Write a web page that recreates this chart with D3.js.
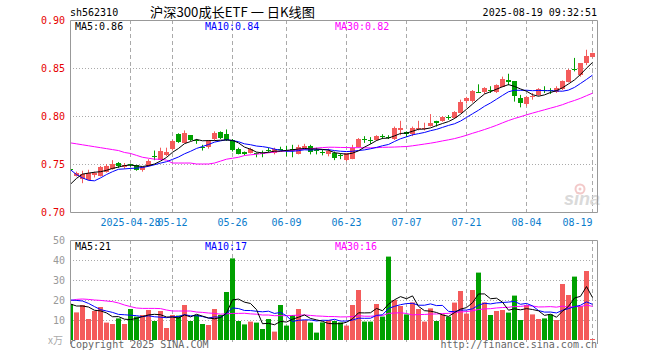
<!DOCTYPE html>
<html><head><meta charset="utf-8">
<script src="https://cdn.jsdelivr.net/npm/d3@7"></script>
<style>body{margin:0;background:#fff}svg{display:block}</style>
</head><body><svg id="c" width="660" height="360"></svg>
<script>
const dates = [
"2025-04-14","2025-04-15","2025-04-16","2025-04-17","2025-04-18","2025-04-21","2025-04-22","2025-04-23","2025-04-24","2025-04-25",
"2025-04-28","2025-04-29","2025-04-30","2025-05-06","2025-05-07","2025-05-08","2025-05-09","2025-05-12","2025-05-13","2025-05-14",
"2025-05-15","2025-05-16","2025-05-19","2025-05-20","2025-05-21","2025-05-22","2025-05-23","2025-05-26","2025-05-27","2025-05-28",
"2025-05-29","2025-05-30","2025-06-03","2025-06-04","2025-06-05","2025-06-06","2025-06-09","2025-06-10","2025-06-11","2025-06-12",
"2025-06-13","2025-06-16","2025-06-17","2025-06-18","2025-06-19","2025-06-20","2025-06-23","2025-06-24","2025-06-25","2025-06-26",
"2025-06-27","2025-06-30","2025-07-01","2025-07-02","2025-07-03","2025-07-04","2025-07-07","2025-07-08","2025-07-09","2025-07-10",
"2025-07-11","2025-07-14","2025-07-15","2025-07-16","2025-07-17","2025-07-18","2025-07-21","2025-07-22","2025-07-23","2025-07-24",
"2025-07-25","2025-07-28","2025-07-29","2025-07-30","2025-07-31","2025-08-01","2025-08-04","2025-08-05","2025-08-06","2025-08-07",
"2025-08-08","2025-08-11","2025-08-12","2025-08-13","2025-08-14","2025-08-15","2025-08-18","2025-08-19"];

const open = [
.745,.738,.735,.734,.739,.738,.742,.745,.751,.747,
.7495,.749,.744,.748,.758,.755,.760,.766,.781,.772,
.780,.775,.768,.768,.776,.783,.781,.775,.766,.762,
.762,.761,.7615,.7645,.762,.766,.765,.766,.761,.767,
.769,.765,.762,.761,.7615,.759,.754,.756,.768,.776,
.775,.775,.779,.778,.776,.785,.783,.782,.787,.787,
.790,.795,.795,.7985,.798,.804,.816,.816,.8255,.825,
.8275,.825,.831,.838,.836,.819,.813,.820,.822,.8275,
.827,.825,.828,.836,.8485,.842,.855,.862];
const high = [
.747,.742,.743,.744,.742,.748,.750,.754,.752,.751,
.750,.749,.747,.755,.764,.767,.767,.775,.782,.785,
.780,.776,.770,.775,.784,.784,.786,.776,.767,.763,
.767,.762,.764,.767,.767,.768,.769,.770,.770,.771,
.770,.767,.765,.766,.763,.761,.761,.770,.777,.779,
.778,.780,.781,.780,.789,.795,.784,.789,.795,.793,
.802,.795,.800,.801,.805,.817,.820,.827,.833,.830,
.831,.833,.841,.844,.836,.822,.821,.824,.829,.831,
.829,.831,.837,.849,.8605,.855,.869,.866];
const low = [
.741,.737,.730,.733,.736,.737,.741,.744,.746,.745,
.747,.743,.742,.747,.754,.754,.758,.764,.772,.772,
.774,.771,.764,.766,.774,.776,.774,.763,.760,.759,
.761,.757,.757,.762,.760,.764,.758,.757,.760,.765,
.760,.760,.759,.758,.754,.755,.753,.755,.767,.772,
.771,.774,.776,.776,.775,.780,.778,.779,.785,.785,
.789,.789,.794,.796,.797,.803,.813,.814,.824,.823,
.824,.824,.830,.832,.815,.809,.810,.817,.821,.824,
.823,.824,.827,.835,.8465,.841,.853,.861];
const close = [
.744,.741,.740,.741,.741,.747,.748,.750,.748,.749,
.749,.744,.747,.753,.757,.764,.763,.774,.773,.782,
.775,.774,.767,.774,.782,.777,.775,.765,.761,.760,
.766,.760,.761,.764,.766,.7655,.7645,.764,.768,.769,
.763,.7645,.7615,.764,.756,.7585,.761,.767,.776,.7755,
.7745,.779,.7785,.7775,.787,.787,.781,.788,.788,.788,
.793,.793,.799,.798,.804,.815,.819,.826,.825,.8295,
.827,.832,.839,.836,.820,.814,.820,.821,.828,.827,
.8265,.8295,.836,.848,.848,.855,.862,.866];
const volume = [
18,13.8,17.5,10.5,14.5,16.5,8.7,8,10.8,8,
15.5,11.7,12.5,15,9.5,14.5,6,12.5,12.2,17.5,
9.5,12.5,8,7.5,15.5,12.5,24,40.8,9.5,7.8,
9.2,8.7,5.5,10.5,4.2,17.5,7.2,12.5,15.5,10,
8.7,3.7,8.8,10,9.5,8.8,7.2,17.5,25,9.2,
9.2,18,11.7,41.7,20,17,12.8,18.8,15.5,9.2,
15.8,9.5,12.8,11.7,18.7,24.5,13.2,25,33.7,18.8,
12.5,14.5,15,13.7,22.2,10,17.5,12.8,10.5,10.8,
12.8,10,28,22.5,31.7,17,34.5,0.5];

// moving-average values before enough days exist in this window
const ma5Head = [0.729,0.735,0.7395,0.7405];
const ma10Head = [0.744,0.739,0.7355,0.733,0.7325,0.7355,0.739,0.742,0.7445];
const ma30Head = [0.772,0.771,0.770,0.769,0.768,0.767,0.766,0.765,0.764,0.762,
  0.761,0.759,0.757,0.756,0.755,0.755,0.754,0.751,0.751,0.751,
  0.751,0.750,0.750,0.750,0.751,0.753,0.755,0.756,0.757];
const volMa5Head = [18,17,17,16.5];
const volMa10Head = [20,19.8,19.5,18.3,16.7,15.2,14.5,13.8,12.8];
const volMa30Head = [19.7,20.3,20.5,20.3,20,19.8,19.5,19.2,18.5,17.5,
  16.7,16,15.8,15.8,15.8,15.7,15,14.5,14.5,14.5,
  14.5,14,13.8,13.5,13.3,12.9,13.1,13.3,13.3];

const tickDates = ["2025-04-28","2025-05-12","2025-05-26","2025-06-09","2025-06-23","2025-07-07","2025-07-21","2025-08-04","2025-08-19"];
const tickLabels = ["2025-04-28","05-12","05-26","06-09","06-23","07-07","07-21","08-04","08-19"];
const priceTicks = [0.70,0.75,0.80,0.85,0.90];
const volTicks = [10,20,30,40,50];

const svg = d3.select('#c');
const L=70, R=597, PT=20, PB=212, VT=240, VB=340;
const MONO = "'DejaVu Sans Mono', 'Liberation Mono', monospace";
const RED = "#f45b5b", GREEN = "#00a000";
const x = d3.scaleLinear().domain([0, dates.length-1]).range([70.5, 592.5]);
const yP = d3.scaleLinear().domain([0.70,0.90]).range([PB, PT]);
const yV = d3.scaleLinear().domain([0,50]).range([VB, VT]);
const crisp = v => Math.round(v) + 0.5;

function ma(vals, n, head){ return vals.map((v,i)=> i < n-1 ? head[i] : d3.mean(vals.slice(i-n+1, i+1))); }
const ma5 = ma(close,5,ma5Head), ma10 = ma(close,10,ma10Head), ma30 = ma(close,30,ma30Head);
const vma5 = ma(volume,5,volMa5Head), vma10 = ma(volume,10,volMa10Head), vma30 = ma(volume,30,volMa30Head);

const defs = svg.append('defs');
defs.append('clipPath').attr('id','cp').append('rect').attr('x',L+1).attr('y',PT+1).attr('width',R-L-1).attr('height',PB-PT-1);
defs.append('clipPath').attr('id','cv').append('rect').attr('x',L+1).attr('y',VT+1).attr('width',R-L-1).attr('height',VB-VT+4);

// grid lines
const tickIdx = tickDates.map(d => dates.indexOf(d));
[[PT,PB],[VT,VB+4]].forEach(([a,b])=>{
  svg.append('g').selectAll('line').data(tickIdx).join('line')
    .attr('x1',d=>x(d)).attr('x2',d=>x(d)).attr('y1',a).attr('y2',b)
    .attr('stroke','#aaa').attr('stroke-dasharray','4,3');
});
svg.append('g').selectAll('line').data(priceTicks.slice(1,-1)).join('line')
  .attr('x1',L).attr('x2',R).attr('y1',d=>crisp(yP(d))).attr('y2',d=>crisp(yP(d)))
  .attr('stroke','#aaa').attr('stroke-dasharray','1,2');
svg.append('g').selectAll('line').data(volTicks.slice(0,-1)).join('line')
  .attr('x1',L).attr('x2',R).attr('y1',d=>crisp(yV(d))).attr('y2',d=>crisp(yV(d)))
  .attr('stroke','#aaa').attr('stroke-dasharray','1,2');

// watermark
const wm = svg.append('g').attr('opacity',0.9);
wm.append('text').attr('x',564).attr('y',205).attr('font-family','Arial, Liberation Sans, sans-serif')
  .attr('font-size',18).attr('font-weight','bold').attr('font-style','italic').attr('fill','#d6d6d6').text('sina');
wm.append('circle').attr('cx',580).attr('cy',189).attr('r',4.5).attr('fill','none').attr('stroke','#f2c4c4').attr('stroke-width',2);
wm.append('circle').attr('cx',580).attr('cy',189).attr('r',1.5).attr('fill','#f2c4c4');

// frames
svg.append('path').attr('d',`M${L+0.5},${PB+0.5}V${PT+0.5}H${R+0.5}V${PB+0.5}H${L+0.5}`).attr('fill','none').attr('stroke','#999');
svg.append('path').attr('d',`M${L+0.5},${VB+4}V${VT+0.5}H${R+0.5}V${VB+4}`).attr('fill','none').attr('stroke','#999');

// candles
const cg = svg.append('g').attr('clip-path','url(#cp)');
const idx = d3.range(dates.length);
const up = i => close[i] >= open[i];
cg.selectAll('line.w').data(idx).join('line').attr('class','w')
  .attr('x1',i=>x(i)).attr('x2',i=>x(i)).attr('y1',i=>yP(high[i])).attr('y2',i=>yP(low[i]))
  .attr('stroke',i=>up(i)?RED:GREEN);
cg.selectAll('rect').data(idx).join('rect')
  .attr('x',i=>x(i)-2.5).attr('width',5)
  .attr('y',i=>Math.round(yP(Math.max(open[i],close[i]))))
  .attr('height',i=>Math.max(1, Math.round(Math.abs(yP(open[i])-yP(close[i])))))
  .attr('fill',i=>up(i)?RED:GREEN);

const lineP = d3.line().x((d,i)=>x(i)).y(d=>yP(d));
[[ma30,'#ff00ff'],[ma10,'#0000ff'],[ma5,'#000']].forEach(([s,c])=>{
  cg.append('path').attr('d',lineP(s)).attr('fill','none').attr('stroke',c).attr('stroke-width',1);
});

// volume
const vg = svg.append('g').attr('clip-path','url(#cv)');
vg.selectAll('rect').data(idx).join('rect')
  .attr('x',i=>x(i)-2.5).attr('width',5)
  .attr('y',i=>yV(volume[i])).attr('height',i=>VB-yV(volume[i]))
  .attr('fill',i=>up(i)?RED:GREEN);
const lineV = d3.line().x((d,i)=>x(i)).y(d=>yV(d));
[[vma30,'#ff00ff'],[vma10,'#0000ff'],[vma5,'#000']].forEach(([s,c])=>{
  vg.append('path').attr('d',lineV(s)).attr('fill','none').attr('stroke',c).attr('stroke-width',1);
});

// axis labels
svg.append('g').selectAll('text').data(priceTicks).join('text')
  .attr('x',65).attr('y',d=>yP(d)).attr('dy','0.35em').attr('text-anchor','end')
  .attr('font-family',MONO).attr('font-size',10).attr('fill','#e60000').text(d=>d.toFixed(2));
svg.append('g').selectAll('text').data(volTicks).join('text')
  .attr('x',65).attr('y',d=>yV(d)).attr('dy','0.35em').attr('text-anchor','end')
  .attr('font-family',MONO).attr('font-size',10).attr('fill','#999').text(d=>d);
svg.append('text').attr('x',48).attr('y',344).attr('font-family',"'Noto Sans CJK SC', sans-serif")
  .attr('font-size',10).attr('fill','#aaa').text('x万');

const xl = svg.append('g');
tickIdx.forEach((d,k)=>{
  const lab = tickLabels[k];
  const w = lab.length*6.02;
  const cx = x(d);
  const anchor = cx + w/2 > R ? 'end' : 'middle';
  xl.append('text').attr('x', anchor==='end' ? cx : cx).attr('y',226).attr('text-anchor',anchor)
    .attr('font-family',MONO).attr('font-size',10).attr('fill','#0a7ccc').text(lab);
});

// header
svg.append('text').attr('x',70).attr('y',16).attr('font-family',MONO).attr('font-size',10).attr('fill','#000').text('sh562310');
svg.append('text').attr('x',150).attr('y',17).attr('font-family',"'Noto Sans CJK SC', sans-serif")
  .attr('font-size',13).attr('fill','#000').attr('textLength',165).attr('lengthAdjust','spacingAndGlyphs').text('沪深300成长ETF 一 日K线图');
svg.append('text').attr('x',597).attr('y',16).attr('text-anchor','end').attr('font-family',MONO).attr('font-size',10).attr('fill','#000').text('2025-08-19 09:32:51');

// MA legends
const last = dates.length-1;
const leg = (xx,yy,c,t)=>svg.append('text').attr('x',xx).attr('y',yy).attr('font-family',MONO).attr('font-size',10).attr('fill',c).text(t);
leg(75,30,'#000','MA5:'+ma5[last].toFixed(2));
leg(205,30,'#0000ff','MA10:'+ma10[last].toFixed(2));
leg(335,30,'#ff00ff','MA30:'+ma30[last].toFixed(2));
leg(75,250,'#000','MA5:'+Math.floor(vma5[last]));
leg(205,250,'#0000ff','MA10:'+Math.floor(vma10[last]));
leg(335,250,'#ff00ff','MA30:'+Math.floor(vma30[last]));

// footer
svg.append('text').attr('x',70).attr('y',348).attr('font-family',MONO).attr('font-size',10).attr('fill','#666').text('Copyright 2025 SINA.COM');
svg.append('text').attr('x',597).attr('y',348).attr('text-anchor','end').attr('font-family',MONO).attr('font-size',10).attr('fill','#666').text('http://finance.sina.com.cn');
</script></body></html>
